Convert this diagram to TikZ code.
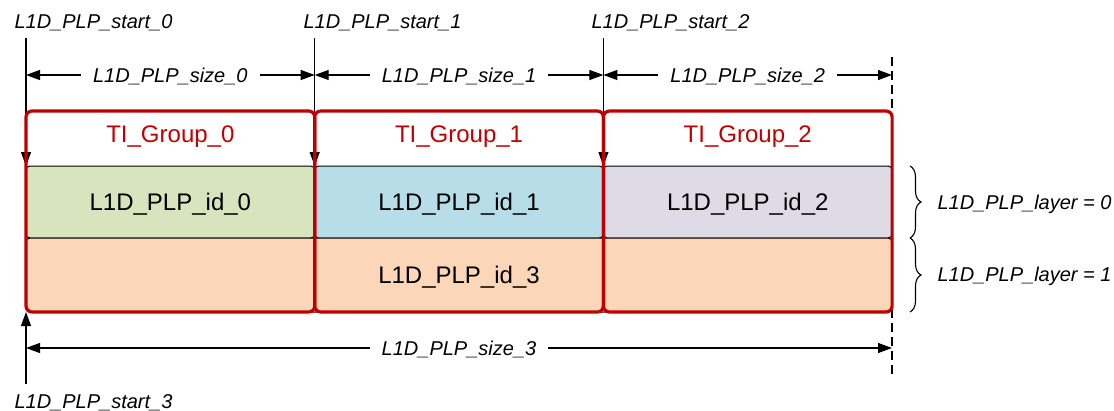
\documentclass[tikz,border=0pt]{standalone}
\usepackage{fontspec}
\setmainfont{Liberation Sans}
\usepackage{tikz}
\usetikzlibrary{positioning}
\usetikzlibrary{arrows.meta}
\usetikzlibrary{decorations.pathreplacing}
\definecolor{tired}{HTML}{C00000}
\definecolor{plpgreen}{HTML}{D7E4BD}
\definecolor{plpblue}{HTML}{B7DEE8}
\definecolor{plppurple}{HTML}{DEDAE6}
\definecolor{plporange}{HTML}{FBD6B8}

\begin{document}
\begin{tikzpicture}[
    x=1pt, y=-1pt,
    cell/.style={draw=black, line width=1pt, rounded corners=4pt, minimum width=288.7pt, minimum height=72pt, inner sep=0pt, outer sep=0pt, font=\fontsize{24}{28}\selectfont, text depth=0pt},
    group/.style={draw=tired, line width=3.2pt, rounded corners=6pt, minimum width=288.7pt, minimum height=201pt, inner sep=0pt, outer sep=0pt},
    grouplabel/.style={text=tired, font=\fontsize{24}{28}\selectfont},
    lbl/.style={font=\fontsize{20}{24}\selectfont\itshape},
    sizelbl/.style={lbl, fill=white, inner xsep=12pt, inner ysep=1pt, text depth=0pt},
    sizearrow/.style={<->, >={Triangle[length=14pt, width=10pt]}, line width=1.1pt},
    startarrow/.style={->, >={Triangle[length=14pt, width=10pt]}, line width=1.1pt},
    layerbrace/.style={decorate, decoration={brace, amplitude=11pt}, line width=1.1pt}
]
    \useasboundingbox (0,0) rectangle (1114,410);

    % dashed end marker
    \coordinate (endtop) at (892,57);
    \coordinate (endbot) at (892,378);
    \draw[line width=1.1pt, dash pattern=on 9pt off 5pt] (endtop) -- (endbot);

    % PLP cells
    \node[cell, fill=plpgreen, anchor=north west] (id0) at (26,166) {L1D\_PLP\_id\_0};
    \node[cell, fill=plpblue, right=0pt of id0] (id1) {L1D\_PLP\_id\_1};
    \node[cell, fill=plppurple, right=0pt of id1] (id2) {L1D\_PLP\_id\_2};
    \node[cell, fill=plporange, anchor=north west, minimum width=866pt, minimum height=74pt] (id3) at (id0.south west) {L1D\_PLP\_id\_3};

    % start labels and markers
    \node[lbl, anchor=base west] (s0) at (11,28) {L1D\_PLP\_start\_0};
    \node[lbl, anchor=base west] (s1) at (300,28) {L1D\_PLP\_start\_1};
    \node[lbl, anchor=base west] (s2) at (588,28) {L1D\_PLP\_start\_2};
    \coordinate (top0) at (26,38);
    \coordinate (top1) at (id1.north west |- top0);
    \coordinate (top2) at (id2.north west |- top0);
    \draw[startarrow] (top0) -- (id0.north west);
    \draw[startarrow] (top1) -- (id1.north west);
    \draw[startarrow] (top2) -- (id2.north west);

    % sizes
    \coordinate (m0) at (26,75);
    \coordinate (m1) at (id1.north west |- m0);
    \coordinate (m2) at (id2.north west |- m0);
    \coordinate (m3) at (endtop |- m0);
    \draw[sizearrow] (m0) -- node[sizelbl] (z0) {L1D\_PLP\_size\_0} (m1);
    \draw[sizearrow] (m1) -- node[sizelbl] (z1) {L1D\_PLP\_size\_1} (m2);
    \draw[sizearrow] (m2) -- node[sizelbl] (z2) {L1D\_PLP\_size\_2} (m3);

    % TI groups
    \node[group, anchor=north west] (g0) at (26,111) {};
    \node[group, right=0pt of g0] (g1) {};
    \node[group, right=0pt of g1] (g2) {};
    \node[grouplabel, anchor=base] (t0) at (g0.north |- 0,142) {TI\_Group\_0};
    \node[grouplabel, anchor=base] (t1) at (g1.north |- 0,142) {TI\_Group\_1};
    \node[grouplabel, anchor=base] (t2) at (g2.north |- 0,142) {TI\_Group\_2};

    % bottom: start_3 and size_3
    \coordinate (bot0) at (26,384);
    \draw[startarrow] (bot0) -- (id3.south west);
    \node[lbl, anchor=base west] (s3) at (11,408) {L1D\_PLP\_start\_3};
    \coordinate (n0) at (26,348);
    \coordinate (n3) at (endbot |- n0);
    \draw[sizearrow] (n0) -- node[sizelbl] (z3) {L1D\_PLP\_size\_3} (n3);

    % layers
    \draw[layerbrace] (910,166) -- (910,238);
    \draw[layerbrace] (910,238) -- (910,312);
    \node[lbl, anchor=base west] (l0) at (934,209) {L1D\_PLP\_layer = 0};
    \node[lbl, anchor=base west] (l1) at (934,281) {L1D\_PLP\_layer = 1};
\end{tikzpicture}
\end{document}
